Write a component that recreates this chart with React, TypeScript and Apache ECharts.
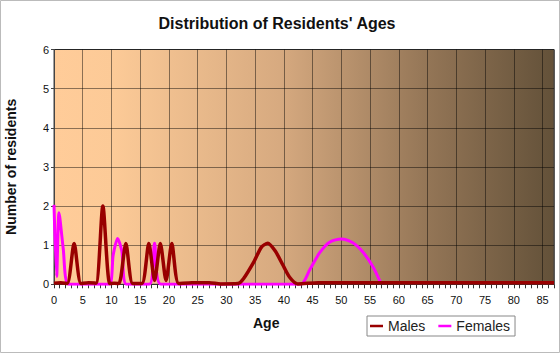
import React, { useEffect, useRef } from "react";
import * as echarts from "echarts";

const titleText = "Distribution of Residents' Ages";
const yAxisTitle = "Number of residents";
const xAxisTitle = "Age";
const seriesNames = ["Males", "Females"];

const maleAges = [0, 1.2, 2.3, 3.5, 4.7, 6, 7.3, 8.5, 9.7, 10.5, 11.3, 12.5, 13.7, 15.3, 16.5, 17.5, 18.5, 19.5, 20.5, 21.7, 24, 27, 29, 32, 33, 34.8, 36.1, 37.2, 38.5, 39.8, 41, 42.4, 46, 87];
const maleValues = [0.03, 0.04, 0.02, 1.04, 0.02, 0.04, 0.03, 2.0, 0.02, 0.03, 0.02, 1.04, 0.02, 0.02, 1.04, 0.1, 1.04, 0.1, 1.04, 0.02, 0.04, 0.04, 0.01, 0.02, 0.15, 0.58, 0.95, 1.05, 0.85, 0.5, 0.18, 0.01, 0.04, 0.04];

const femaleAges = [0, 0.46, 0.87, 1.6, 2.5, 6, 9.6, 10.3, 11.06, 11.8, 12.6, 16.6, 17.5, 18.6, 30, 42.9, 44.5, 46.2, 48, 50, 52, 53.7, 55.5, 56.9];
const femaleValues = [2.03, 0.2, 1.83, 0.92, 0, 0, 0, 0.75, 1.17, 0.85, 0, 0, 1.05, 0, 0, 0, 0.37, 0.8, 1.08, 1.16, 1.06, 0.83, 0.45, 0.02];

const xMin = 0;
const xMax = 87;
const xInterval = 5;
const yMin = 0;
const yMax = 6;
const yInterval = 1;

const FONT = "'Liberation Sans', Arial, sans-serif";

export default function App() {
  const ref = useRef<HTMLDivElement>(null);
  useEffect(() => {
    if (!ref.current) return;
    const chart = echarts.init(ref.current, null, { renderer: "svg" });
    const males = maleAges.map((a, i) => [a, maleValues[i]]);
    const females = femaleAges.map((a, i) => [a, femaleValues[i]]);
    chart.setOption({
      animation: false,
      backgroundColor: "#ffffff",
      textStyle: { fontFamily: FONT },
      title: {
        text: titleText,
        left: 272,
        top: 10,
        textAlign: "center",
        textStyle: { fontFamily: FONT, fontSize: 16, fontWeight: "bold", color: "#111" },
      },
      grid: {
        left: 54,
        right: 6,
        top: 49.5,
        bottom: 68.7,
        containLabel: false,
        outerBoundsMode: "none",
        show: true,
        borderColor: "#444",
        borderWidth: 1,
        backgroundColor: new echarts.graphic.LinearGradient(0, 0, 1, 0, [
          { offset: 0, color: "#FFCC99" },
          { offset: 0.12, color: "#FCCA97" },
          { offset: 0.45, color: "#D7AA80" },
          { offset: 0.75, color: "#937556" },
          { offset: 1, color: "#635139" },
        ]),
      },
      legend: {
        left: 367,
        top: 316,
        padding: [3, 5, 3, 3],
        itemGap: 13,
        itemWidth: 13,
        itemHeight: 2.5,
        icon: "rect",
        borderColor: "#888",
        borderWidth: 1,
        textStyle: { fontFamily: FONT, fontSize: 14, color: "#222" },
        data: seriesNames,
      },
      graphic: [
        {
          type: "text",
          left: 253,
          top: 316,
          style: { text: xAxisTitle, font: `bold 14px ${FONT}`, fill: "#111" },
        },
        {
          type: "rect",
          shape: { x: 0.5, y: 0.5, width: 559, height: 352 },
          style: { fill: "none", stroke: "#bbb", lineWidth: 1 },
          silent: true,
        },
      ],
      xAxis: {
        type: "value",
        min: xMin,
        max: xMax,
        interval: xInterval,
        axisLine: { show: true, lineStyle: { color: "#333", width: 1 } },
        axisTick: { show: true, length: 4, lineStyle: { color: "#333" } },
        minorTick: { show: true, splitNumber: 5, length: 4, lineStyle: { color: "#333" } },
        splitLine: { show: true, lineStyle: { color: "rgba(0,0,0,0.45)", width: 1 } },
        axisLabel: { fontFamily: FONT, fontSize: 11, color: "#111", margin: 10, showMaxLabel: false },
      },
      yAxis: {
        type: "value",
        min: yMin,
        max: yMax,
        interval: yInterval,
        name: yAxisTitle,
        nameLocation: "middle",
        nameRotate: 90,
        nameGap: 36,
        nameTextStyle: { fontFamily: FONT, fontSize: 14, fontWeight: "bold", color: "#111" },
        axisLine: { show: true, lineStyle: { color: "#444", width: 1 } },
        axisTick: { show: true, length: 3, lineStyle: { color: "#444" } },
        splitLine: { show: true, lineStyle: { color: "rgba(0,0,0,0.45)", width: 1 } },
        axisLabel: { fontFamily: FONT, fontSize: 11, color: "#111", margin: 5 },
      },
      series: [
        {
          name: seriesNames[1],
          type: "line",
          data: females,
          smooth: 0.25,
          symbol: "none",
          z: 2,
          lineStyle: { color: "#FF00FF", width: 3 },
          itemStyle: { color: "#FF00FF" },
        },
        {
          name: seriesNames[0],
          type: "line",
          data: males,
          smooth: 0.25,
          symbol: "none",
          z: 3,
          lineStyle: { color: "#990000", width: 3.5 },
          itemStyle: { color: "#990000" },
        },
      ],
    });
    return () => chart.dispose();
  }, []);
  return (
    <div
      ref={ref}
      style={{ position: "fixed", left: 0, top: 0, width: 560, height: 353 }}
    />
  );
}
